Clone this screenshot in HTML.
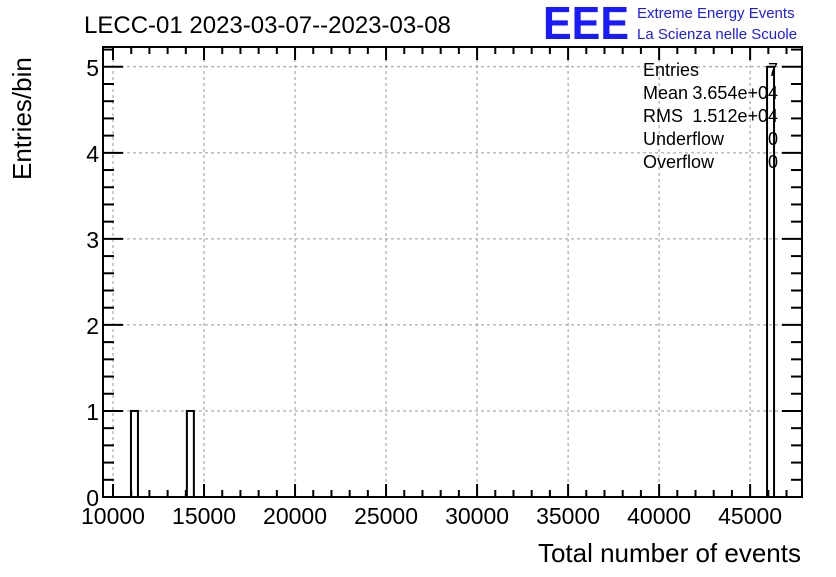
<!DOCTYPE html>
<html><head><meta charset="utf-8"><style>
body{margin:0;background:#fff;}
svg{font-family:"Liberation Sans",sans-serif;}
</style></head><body>
<svg width="836" height="572" id="c">
<text x="84" y="33" font-size="24">LECC-01 2023-03-07--2023-03-08</text>
<g>
<text x="543" y="39" font-size="46" fill="#1a1aff" font-weight="bold" textLength="86" lengthAdjust="spacingAndGlyphs">EEE</text>
<text x="637" y="18" font-size="15" fill="#1a1aff">Extreme Energy Events</text>
<text x="637" y="39" font-size="15" fill="#1a1aff">La Scienza nelle Scuole</text>
</g>
<g id="grid"></g>
<g id="bars"></g>
<g id="axes"></g>
<text x="801" y="562" font-size="26" text-anchor="end">Total number of events</text>
<text transform="translate(31,180) rotate(-90)" font-size="26">Entries/bin</text>
<g font-size="18">
<text x="643" y="76">Entries</text><text x="778" y="76" text-anchor="end">7</text>
<text x="643" y="99">Mean</text><text x="778" y="99" text-anchor="end">3.654e+04</text>
<text x="643" y="122">RMS</text><text x="778" y="122" text-anchor="end">1.512e+04</text>
<text x="643" y="145">Underflow</text><text x="778" y="145" text-anchor="end">0</text>
<text x="643" y="168">Overflow</text><text x="778" y="168" text-anchor="end">0</text>
</g>
</svg>
<script>
const binCenters=[11200,14300,46200];
const binCounts=[1,1,5];
const xTicks=[10000,15000,20000,25000,30000,35000,40000,45000];
const yTicks=[0,1,2,3,4,5];
const XMIN=9450,XMAX=47850,NBINS=100;
const L=103,R=802,T=47,B=497,YMAX=5.23;
const X=v=>L+(v-XMIN)/(XMAX-XMIN)*(R-L);
const Y=v=>B-v/YMAX*(B-T);
const NS="http://www.w3.org/2000/svg";
function mk(p,tag,a){const e=document.createElementNS(NS,tag);for(const k in a)e.setAttribute(k,a[k]);p.appendChild(e);return e;}
const grid=document.getElementById('grid'),bars=document.getElementById('bars'),axes=document.getElementById('axes');
xTicks.forEach(v=>{const l=mk(grid,'line',{x1:X(v),x2:X(v),y1:T,y2:B,stroke:'#999','stroke-dasharray':'3,3','stroke-width':1});

});
yTicks.forEach(v=>{if(v===0)return;const l=mk(grid,'line',{x1:L,x2:R,y1:Y(v),y2:Y(v),stroke:'#999','stroke-dasharray':'3,3','stroke-width':1});

});
const bw=(XMAX-XMIN)/NBINS;
binCenters.forEach((c,i)=>{const b=Math.floor((c-XMIN)/bw);const x0=XMIN+b*bw;
const r=mk(bars,'rect',{x:X(x0),y:Y(binCounts[i]),width:X(x0+bw)-X(x0),height:B-Y(binCounts[i]),fill:'none',stroke:'#000','stroke-width':2});

});
const f=mk(axes,'rect',{x:L,y:T,width:R-L,height:B-T,fill:'none',stroke:'#000','stroke-width':2});


for(let v=9000;v<=XMAX;v+=1000){if(v<XMIN)continue;const maj=v%5000===0;const len=maj?13:7;
mk(axes,'line',{x1:X(v),x2:X(v),y1:B,y2:B-len,stroke:'#000','stroke-width':2});
mk(axes,'line',{x1:X(v),x2:X(v),y1:T,y2:T+len,stroke:'#000','stroke-width':2});}
for(let i=0;i<=26;i++){const v=i*0.2;if(v>YMAX)break;const maj=i%5===0;const len=maj?20:11;
mk(axes,'line',{x1:L,x2:L+len,y1:Y(v),y2:Y(v),stroke:'#000','stroke-width':2});
mk(axes,'line',{x1:R,x2:R-len,y1:Y(v),y2:Y(v),stroke:'#000','stroke-width':2});}
xTicks.forEach(v=>{const t=mk(axes,'text',{x:X(v),y:524,'font-size':23,'text-anchor':'middle'});t.textContent=v;

});
yTicks.forEach(v=>{const t=mk(axes,'text',{x:99,y:Y(v)+9,'font-size':23,'text-anchor':'end'});t.textContent=v;

});
</script>
</body></html>
